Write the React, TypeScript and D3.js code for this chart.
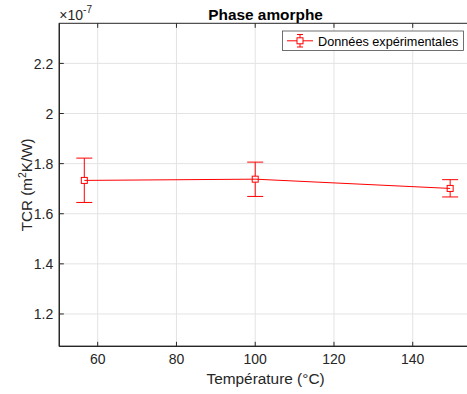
import React from "react";
import * as d3 from "d3";

const temperatures = [56.6, 100, 149.5];
const tcrValues = [1.733e-7, 1.738e-7, 1.701e-7];
const errLow = [1.645e-7, 1.669e-7, 1.667e-7];
const errHigh = [1.822e-7, 1.806e-7, 1.736e-7];
const xTicks = [60, 80, 100, 120, 140];
const yTicks = [1.2, 1.4, 1.6, 1.8, 2.0, 2.2];
const yTickLabels = ["1.2", "1.4", "1.6", "1.8", "2", "2.2"];
const title = "Phase amorphe";
const xLabel = "Température (°C)";
const legendLabel = "Données expérimentales";

const W = 467;
const H = 394;
const left = 59.3;
const right = 471.8;
const top = 23.3;
const bottom = 346.3;
const font = "'Liberation Sans', Arial, Helvetica, sans-serif";
const axisColor = "#262626";
const gridColor = "#e3e3e3";
const red = "#ff0000";

export default function App() {
  const x = d3.scaleLinear().domain([50.25, 155]).range([left, right]);
  const y = d3.scaleLinear().domain([1.071e-7, 2.36e-7]).range([bottom, top]);
  const line = d3
    .line<number>()
    .x((_, i) => x(temperatures[i]))
    .y((d) => y(d));
  const tickLen = 4.5;
  const cap = 8;
  const ms = 3;

  return (
    <svg
      width={W}
      height={H}
      style={{ position: "absolute", left: 0, top: 0, background: "#fff" }}
      fontFamily={font}
    >
      <rect x={0} y={0} width={W} height={H} fill="#fff" />
      {xTicks.map((t) => (
        <line key={"gx" + t} x1={x(t)} x2={x(t)} y1={top} y2={bottom} stroke={gridColor} strokeWidth={1} />
      ))}
      {yTicks.map((t) => (
        <line key={"gy" + t} x1={left} x2={right} y1={y(t * 1e-7)} y2={y(t * 1e-7)} stroke={gridColor} strokeWidth={1} />
      ))}
      <rect x={left} y={top} width={right - left} height={bottom - top} fill="none" stroke={axisColor} strokeWidth={1} />
      <line x1={left} x2={left} y1={top} y2={bottom} stroke={axisColor} strokeWidth={1.3} />
      <line x1={left} x2={right} y1={bottom} y2={bottom} stroke={axisColor} strokeWidth={1.3} />
      {xTicks.map((t) => (
        <g key={"tx" + t}>
          <line x1={x(t)} x2={x(t)} y1={bottom} y2={bottom - tickLen} stroke={axisColor} />
          <line x1={x(t)} x2={x(t)} y1={top} y2={top + tickLen} stroke={axisColor} />
          <text x={x(t)} y={bottom + 17.7} textAnchor="middle" fontSize={14} fill={axisColor}>
            {t}
          </text>
        </g>
      ))}
      {yTicks.map((t, i) => (
        <g key={"ty" + t}>
          <line x1={left} x2={left + tickLen} y1={y(t * 1e-7)} y2={y(t * 1e-7)} stroke={axisColor} />
          <line x1={right} x2={right - tickLen} y1={y(t * 1e-7)} y2={y(t * 1e-7)} stroke={axisColor} />
          <text x={left - 6} y={y(t * 1e-7) + 5.3} textAnchor="end" fontSize={14} fill={axisColor}>
            {yTickLabels[i]}
          </text>
        </g>
      ))}
      <text x={left} y={20} fontSize={14} fill={axisColor}>
        ×10
        <tspan dy={-7} fontSize={10}>-7</tspan>
      </text>
      <text x={(left + right) / 2} y={20} textAnchor="middle" fontSize={15.4} fontWeight="bold" fill="#000">
        {title}
      </text>
      <text x={(left + right) / 2} y={384} textAnchor="middle" fontSize={15.4} fill={axisColor}>
        {xLabel}
      </text>
      <text
        transform={`translate(31.5, ${(top + bottom) / 2}) rotate(-90)`}
        textAnchor="middle"
        fontSize={15.2}
        fill={axisColor}
      >
        TCR (m<tspan dy={-6} fontSize={10.5}>2</tspan>
        <tspan dy={6}>K/W)</tspan>
      </text>
      <path d={line(tcrValues) || ""} fill="none" stroke={red} strokeWidth={1} />
      {tcrValues.map((v, i) => {
        const cx = x(temperatures[i]);
        return (
          <g key={"e" + i} stroke={red} strokeWidth={1} fill="none">
            <line x1={cx} x2={cx} y1={y(errLow[i])} y2={y(v) + ms} />
            <line x1={cx} x2={cx} y1={y(v) - ms} y2={y(errHigh[i])} />
            <line x1={cx - cap} x2={cx + cap} y1={y(errLow[i])} y2={y(errLow[i])} />
            <line x1={cx - cap} x2={cx + cap} y1={y(errHigh[i])} y2={y(errHigh[i])} />
            <rect x={cx - ms} y={y(v) - ms} width={ms * 2} height={ms * 2} />
          </g>
        );
      })}
      <g>
        <rect x={282.5} y={31} width={181} height={19.5} fill="#fff" stroke="#4d4d4d" strokeWidth={0.8} />
        <g stroke={red} strokeWidth={1} fill="none">
          <line x1={287} x2={313} y1={40.8} y2={40.8} />
          <line x1={300} x2={300} y1={34.5} y2={47} />
          <line x1={297} x2={303} y1={34.5} y2={34.5} />
          <line x1={297} x2={303} y1={47} y2={47} />
          <rect x={297} y={37.8} width={6} height={6} fill="#fff" />
        </g>
        <text x={318} y={45.5} fontSize={12.7} fill="#000">
          {legendLabel}
        </text>
      </g>
    </svg>
  );
}
